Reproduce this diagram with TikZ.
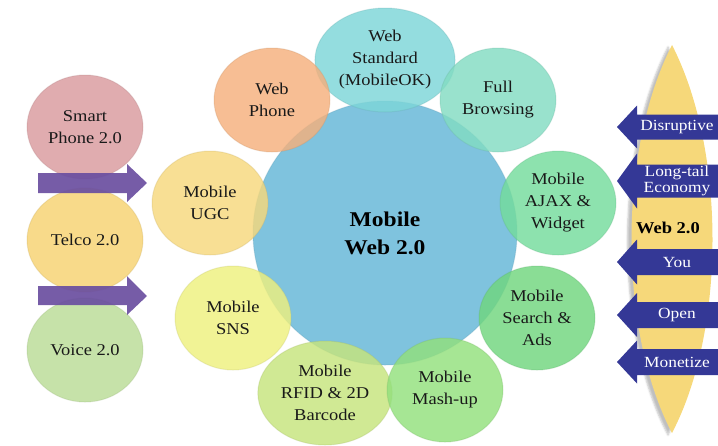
\documentclass[tikz,border=0pt]{standalone}
\usepackage{fontspec}
\setmainfont[FakeStretch=1.12]{Liberation Serif}
\usetikzlibrary{shapes.geometric,shapes.arrows,shadows.blur}

\definecolor{hubblue}{HTML}{7FC3DE}
\definecolor{cstd}{HTML}{7DD6D8}
\definecolor{cfull}{HTML}{82DCC2}
\definecolor{cajax}{HTML}{74DC9C}
\definecolor{csearch}{HTML}{70D67E}
\definecolor{cmash}{HTML}{92E07C}
\definecolor{crfid}{HTML}{C6E47C}
\definecolor{csns}{HTML}{EEF07E}
\definecolor{cugc}{HTML}{F6D87C}
\definecolor{cphone}{HTML}{F5B07C}
\definecolor{csmart}{HTML}{D99A9E}
\definecolor{ctelco}{HTML}{F6D270}
\definecolor{cvoice}{HTML}{BADC96}
\definecolor{clens}{HTML}{F6D87A}
\definecolor{purplearrow}{HTML}{6A4EA0}
\definecolor{bluearrow}{HTML}{343896}

\tikzset{
  txt/.style={font=\fontsize{16.5}{22}\selectfont, align=center, text=black!90},
  bubble/.style={ellipse, minimum width=116pt, minimum height=104pt,
    fill=#1, fill opacity=0.82, draw=#1!80!black, draw opacity=0.25,
    line width=1pt, txt, text opacity=1},
  hub/.style={circle, minimum size=264pt, fill=hubblue, draw=hubblue!80!black,
    draw opacity=0.25, line width=1pt,
    font=\fontsize{21}{28}\selectfont\bfseries, align=center},
  rightarrow/.style={fill=purplearrow, fill opacity=0.92},
  leftarrow/.style={fill=bluearrow},
  arrowtxt/.style={font=\fontsize{15.5}{16}\selectfont, text=white, align=center}
}

\begin{document}
\begin{tikzpicture}[x=1pt, y=-1pt]
\useasboundingbox (0,0) rectangle (718,445);

% central hub
\node[hub] (hub) at (385,233) {Mobile\\Web 2.0};

% satellites around the hub
\node[bubble=cstd]    (std)    at (385,60)  {Web\\Standard\\(MobileOK)};
\node[bubble=cphone]  (phone)  at (272,100) {Web\\Phone};
\node[bubble=cfull]   (full)   at (498,100) {Full\\Browsing};
\node[bubble=cugc]    (ugc)    at (210,203) {Mobile\\UGC};
\node[bubble=cajax]   (ajax)   at (558,203) {Mobile\\AJAX \&\\Widget};
\node[bubble=csns]    (sns)    at (233,318) {Mobile\\SNS};
\node[bubble=csearch] (search) at (537,318) {Mobile\\Search \&\\Ads};
\node[bubble=crfid]   (rfid)   at (325,393) {Mobile\\RFID \& 2D\\Barcode};
\node[bubble=cmash]   (mash)   at (445,390) {Mobile\\Mash-up};

% left column
\node[bubble=csmart] (smart) at (85,127) {Smart\\Phone 2.0};
\node[bubble=ctelco] (telco) at (85,240) {Telco 2.0};
\node[bubble=cvoice] (voice) at (85,350) {Voice 2.0};

% purple arrows between the left column and the hub ring
\fill[rightarrow] (38,173) -- (127,173) -- (127,164) -- (147,183) -- (127,202) -- (127,193) -- (38,193) -- cycle;
\fill[rightarrow] (38,286) -- (127,286) -- (127,276) -- (147,296) -- (127,315) -- (127,305) -- (38,305) -- cycle;

% Web 2.0 lens
\fill[clens, blur shadow={shadow xshift=-4pt, shadow yshift=-2pt, shadow opacity=25}]
  (672,45) .. controls (726,150) and (726,330) .. (672,433)
           .. controls (618,330) and (618,150) .. (672,45) -- cycle;
\node[font=\fontsize{16.5}{17}\selectfont\bfseries] (web2) at (668,228) {Web 2.0};

% blue arrows on the lens
\foreach \y/\hb/\hh/\nm/\lbl in {
  127/12.5/21.5/dis/Disruptive,
  181/16.5/27.5/lte/{Long-tail\\Economy},
  262/13/22.5/you/You,
  315/13/22/opn/Open,
  362/13/21.5/mon/Monetize}{
  \fill[leftarrow] (718,\y-\hb) -- (637,\y-\hb) -- (637,\y-\hh) -- (617,\y)
     -- (637,\y+\hh) -- (637,\y+\hb) -- (718,\y+\hb) -- cycle;
  \node[arrowtxt] (\nm) at (677,\y) {\lbl};
}
\end{tikzpicture}
\end{document}
